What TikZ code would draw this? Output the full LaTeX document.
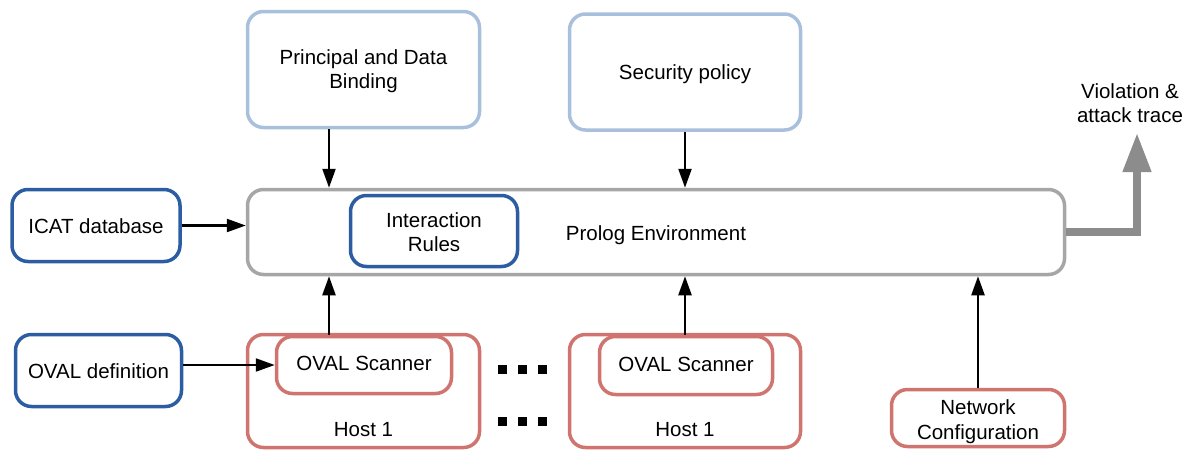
\documentclass[tikz,border=0pt]{standalone}
\usepackage{fontspec}
\setmainfont{Liberation Sans}
\usetikzlibrary{arrows.meta}
\definecolor{lightblue}{RGB}{169,192,221}
\definecolor{darkblue}{RGB}{44,93,162}
\definecolor{boxgrey}{RGB}{166,166,166}
\definecolor{hostred}{RGB}{207,116,110}
\definecolor{outgrey}{RGB}{140,140,140}
% line strut: fixes the height and depth of every text line
\newcommand\lnstrut{\rule[-4.5pt]{0pt}{24pt}}
% strut for the first line of two-line texts
\newcommand\topstrut[1][18.5pt]{\rule{0pt}{#1}}
\tikzset{
  txt/.style={align=center, font=\fontsize{20.5}{24}\selectfont,
    execute at begin node=\lnstrut, execute at end node=\lnstrut},
  % single-line texts that sit a little higher
  raised/.style={execute at end node=\rule[-8.5pt]{0pt}{0pt}},
  box/.style={txt, draw, rounded corners=16pt, line width=3.5pt, fill=white,
    inner sep=2pt},
  inbox/.style={box, draw=lightblue},
  dbbox/.style={box, draw=darkblue},
  envbox/.style={box, draw=boxgrey},
  hostbox/.style={box, draw=hostred},
  arr/.style={draw=black, line width=2.3pt, -{Triangle[length=19pt,width=13pt]}},
  outarr/.style={draw=outgrey, line width=7.5pt,
    -{Triangle[length=39pt,width=27pt]}},
  dot/.style={fill=black},
  plain/.style={txt, inner sep=0pt},
}
\begin{document}
\begin{tikzpicture}[x=1pt, y=-1pt]
\useasboundingbox (0,0) rectangle (1190,450);

% inputs above the environment
\node[inbox, minimum width=232pt, minimum height=116pt] (pdb) at (363.5,69.5) {\topstrut Principal and Data\\Binding};
\node[inbox, minimum width=231pt, minimum height=116pt] (sec) at (685,72) {Security policy};

% the Prolog environment with its rule set
\node[envbox, minimum width=817pt, minimum height=85pt] (prolog) at (656,232) {\raisebox{-1pt}{Prolog Environment}};
\node[dbbox, minimum width=167pt, minimum height=71pt] (rules) at (434,231) {\topstrut[20.5pt]Interaction\\Rules};

% databases on the left
\node[dbbox, minimum width=168pt, minimum height=72pt] (icat) at (96,225.5) {ICAT database};
\node[dbbox, minimum width=166pt, minimum height=72pt] (ovaldef) at (98.5,370.5) {OVAL definition};

% hosts with their scanners
\node[hostbox, minimum width=232pt, minimum height=113pt,
  label={[plain, anchor=base, label distance=-12.5pt]south:Host 1}] (host1) at (363.5,391) {};
\node[hostbox, raised, minimum width=175pt, minimum height=57pt] (scan1) at (364,365) {OVAL Scanner};
\node[hostbox, minimum width=231pt, minimum height=113pt,
  label={[plain, anchor=base, label distance=-12.5pt]south:Host 1}] (host2) at (685,391) {};
\node[hostbox, raised, minimum width=173pt, minimum height=58pt] (scan2) at (686,365.5) {OVAL Scanner};
\node[hostbox, minimum width=173pt, minimum height=57pt] (net) at (978,418) {\topstrut[22.5pt]Network\\[1pt]Configuration};

% output
\node[plain] (viol) at (1130,103) {\topstrut Violation \&\\attack trace};
\coordinate (vtip) at (1137,133);
\coordinate (lx) at (329,0);

% ellipsis between the hosts
\foreach \cx in {502,522,542}{
  \fill[dot] (\cx-4.5,364.5) rectangle (\cx+4.5,373.5);
  \fill[dot] (\cx-4.5,416.5) rectangle (\cx+4.5,425.5);
}

% connectors
\draw[arr] (pdb.south -| lx) -- (prolog.north -| lx);
\draw[arr] (sec.south) -- (prolog.north -| sec.south);
\draw[arr] (icat.east) -- (prolog.west |- icat.east);
\draw[arr] (ovaldef.east |- scan1.west) -- (scan1.west);
\draw[arr] (scan1.north -| lx) -- (prolog.south -| lx);
\draw[arr] (scan2.north -| sec.south) -- (prolog.south -| sec.south);
\draw[arr] (net.north) -- (prolog.south -| net.north);
\draw[outarr] (prolog.east) -| (vtip);
\end{tikzpicture}
\end{document}
